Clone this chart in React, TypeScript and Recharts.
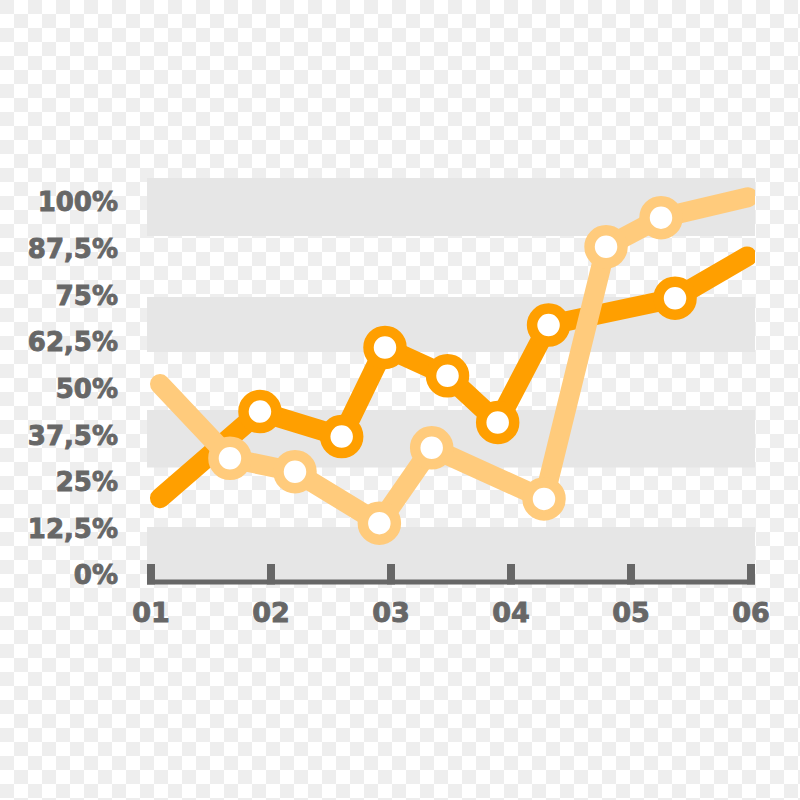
import React from 'react';
import { LineChart, Line, XAxis, YAxis, ReferenceArea } from 'recharts';

// X positions along the 01..06 axis and Y values in percent
const orangeX = [1.075, 1.908, 2.589, 2.95, 3.471, 3.889, 4.313, 5.367, 5.967];
const orangeY = [20.6, 43.8, 37.1, 61.0, 53.4, 40.9, 67.0, 74.2, 85.4];
const lightX = [1.075, 1.658, 2.2, 2.903, 3.339, 4.275, 4.792, 5.25, 5.975];
const lightY = [51.2, 31.3, 27.7, 13.9, 34.1, 20.4, 88.0, 95.8, 101.3];

const xTicks = [1, 2, 3, 4, 5, 6];
const xTickLabels = ['01', '02', '03', '04', '05', '06'];
const yTicks = [0, 12.5, 25, 37.5, 50, 62.5, 75, 87.5, 100];
const yTickLabels = ['0%', '12,5%', '25%', '37,5%', '50%', '62,5%', '75%', '87,5%', '100%'];

// decorative grey bands (in % units)
const bandLow = [-1.88, 28.82, 59.79, 90.88];
const bandHigh = [12.87, 44.24, 74.53, 106.43];

const orangeData = orangeX.map((x, i) => ({ x, y: orangeY[i] }));
const lightData = lightX.map((x, i) => ({ x, y: lightY[i] }));

const ORANGE = '#FF9F00';
const LIGHT = '#FFCB7C';
const GREY = '#676767';
const FONT = '"DejaVu Sans", Verdana, sans-serif';

const makeDot = (color: string, count: number) => (props: any) => {
  const { cx, cy, index } = props;
  if (index === 0 || index === count - 1 || cx == null || cy == null) {
    return <g key={`dot-${index}`} />;
  }
  return (
    <circle key={`dot-${index}`} cx={cx} cy={cy} r={16.5} fill="#ffffff" stroke={color} strokeWidth={10.5} />
  );
};

const XTick = (props: any) => {
  const { x, y, payload } = props;
  const idx = xTicks.indexOf(payload.value);
  return (
    <g>
      <rect x={x - 4} y={y - 18} width={8} height={20.5} fill={GREY} />
      <text x={x} y={y + 40} textAnchor="middle" fill={GREY} stroke={GREY} strokeWidth={0.9} fontFamily={FONT} fontWeight="bold" fontSize={27}>
        {idx >= 0 ? xTickLabels[idx] : ''}
      </text>
    </g>
  );
};

const YTick = (props: any) => {
  const { x, y, payload } = props;
  const idx = yTicks.indexOf(payload.value);
  return (
    <text x={x - 29} y={y + 9.5} textAnchor="end" fill={GREY} stroke={GREY} strokeWidth={0.9} fontFamily={FONT} fontWeight="bold" fontSize={26}>
      {idx >= 0 ? yTickLabels[idx] : ''}
    </text>
  );
};

export default function App() {
  return (
    <div
      style={{
        position: 'absolute',
        left: 0,
        top: 0,
        width: 800,
        height: 800,
        backgroundColor: '#ffffff',
        backgroundImage: 'repeating-conic-gradient(#ffffff 0% 25%, #eeeeee 0% 50%)',
        backgroundSize: '28px 28px',
        backgroundPosition: '0 0',
      }}
    >
      <LineChart width={800} height={800} margin={{ top: 176, right: 45, bottom: 178, left: 0 }}>
        <XAxis
          type="number"
          dataKey="x"
          domain={[0.9667, 6.0333]}
          ticks={xTicks}
          interval={0}
          allowDataOverflow
          height={40}
          tickSize={0}
          tickMargin={0}
          tickLine={false}
          axisLine={{ stroke: GREY, strokeWidth: 5 }}
          tick={<XTick />}
        />
        <YAxis
          type="number"
          dataKey="y"
          domain={[-1.877, 106.97]}
          ticks={yTicks}
          interval={0}
          allowDataOverflow
          width={147}
          tickSize={0}
          tickMargin={0}
          tickLine={false}
          axisLine={false}
          tick={<YTick />}
        />
        {bandLow.map((lo, i) => (
          <ReferenceArea key={`band-${i}`} y1={lo} y2={bandHigh[i]} fill="#e6e6e6" fillOpacity={1} stroke="none" ifOverflow="visible" />
        ))}
        <Line
          data={orangeData}
          dataKey="y"
          type="linear"
          stroke={ORANGE}
          strokeWidth={20}
          strokeLinecap="round"
          strokeLinejoin="round"
          dot={makeDot(ORANGE, orangeData.length)}
          activeDot={false}
          isAnimationActive={false}
        />
        <Line
          data={lightData}
          dataKey="y"
          type="linear"
          stroke={LIGHT}
          strokeWidth={20}
          strokeLinecap="round"
          strokeLinejoin="round"
          dot={makeDot(LIGHT, lightData.length)}
          activeDot={false}
          isAnimationActive={false}
        />
      </LineChart>
    </div>
  );
}
